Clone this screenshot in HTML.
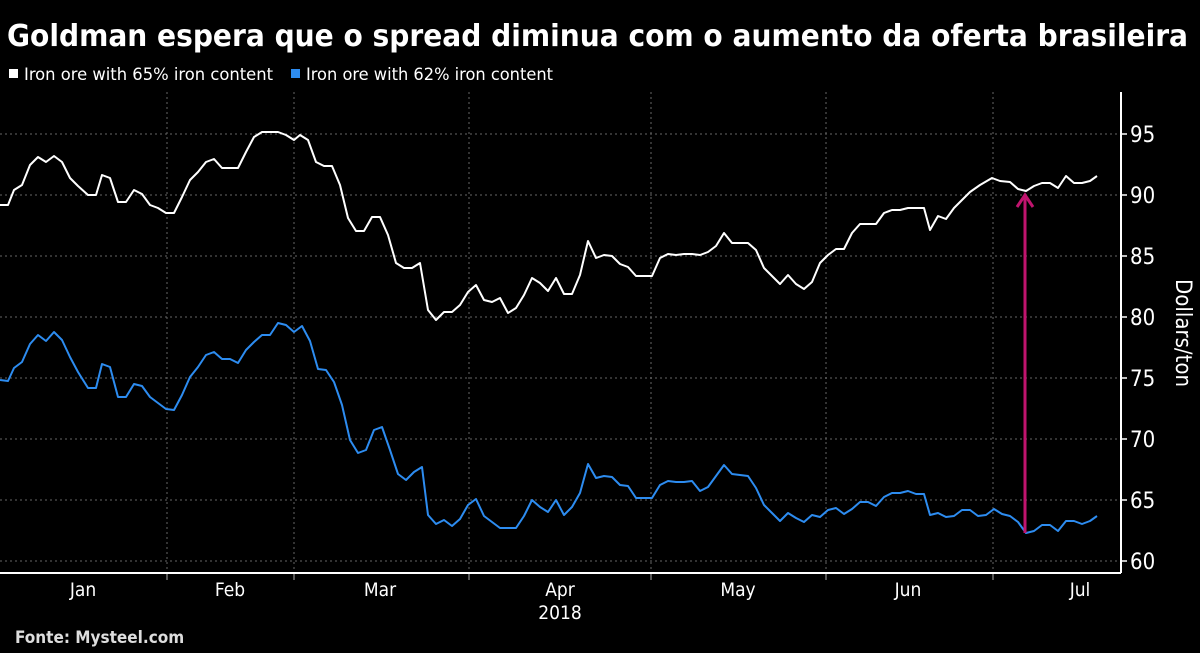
<!DOCTYPE html>
<html><head><meta charset="utf-8"><style>
body{margin:0;background:#000;width:1200px;height:649px;overflow:hidden;font-family:"DejaVu Sans Condensed","Liberation Sans",sans-serif;}
</style></head><body>
<svg width="1200" height="649" xmlns="http://www.w3.org/2000/svg" font-family="DejaVu Sans Condensed, Liberation Sans, sans-serif">
<rect width="1200" height="649" fill="#000"/>
<text x="7" y="46" fill="#fff" font-size="30" font-weight="bold" font-family="DejaVu Sans Condensed, Liberation Sans, sans-serif" textLength="1181" lengthAdjust="spacingAndGlyphs">Goldman espera que o spread diminua com o aumento da oferta brasileira</text>
<rect x="9" y="69" width="9" height="9" fill="#fff"/>
<text x="24" y="80" fill="#fff" font-size="17" textLength="249" lengthAdjust="spacingAndGlyphs">Iron ore with 65% iron content</text>
<rect x="291" y="69" width="9" height="9" fill="#2d8cf0"/>
<text x="306" y="80" fill="#fff" font-size="17" textLength="247" lengthAdjust="spacingAndGlyphs">Iron ore with 62% iron content</text>
<g stroke="#666" stroke-width="1" stroke-dasharray="2,3">
<line x1="0" x2="1119" y1="134" y2="134"/><line x1="0" x2="1119" y1="195" y2="195"/><line x1="0" x2="1119" y1="256" y2="256"/><line x1="0" x2="1119" y1="317" y2="317"/><line x1="0" x2="1119" y1="378" y2="378"/><line x1="0" x2="1119" y1="439" y2="439"/><line x1="0" x2="1119" y1="500" y2="500"/><line x1="0" x2="1119" y1="561" y2="561"/>
<line x1="167" x2="167" y1="92" y2="573"/><line x1="294" x2="294" y1="92" y2="573"/><line x1="469" x2="469" y1="92" y2="573"/><line x1="651" x2="651" y1="92" y2="573"/><line x1="826" x2="826" y1="92" y2="573"/><line x1="993" x2="993" y1="92" y2="573"/>
</g>
<g stroke="#aaa" stroke-width="1"><line x1="167" x2="167" y1="573" y2="580"/><line x1="294" x2="294" y1="573" y2="580"/><line x1="469" x2="469" y1="573" y2="580"/><line x1="651" x2="651" y1="573" y2="580"/><line x1="826" x2="826" y1="573" y2="580"/><line x1="993" x2="993" y1="573" y2="580"/></g>
<line x1="0" x2="1121" y1="573" y2="573" stroke="#fff" stroke-width="2"/>
<line x1="1121" x2="1121" y1="92" y2="573" stroke="#fff" stroke-width="2"/>
<g stroke="#fff" stroke-width="1.5"><line x1="1121" x2="1127" y1="134" y2="134"/><line x1="1121" x2="1127" y1="195" y2="195"/><line x1="1121" x2="1127" y1="256" y2="256"/><line x1="1121" x2="1127" y1="317" y2="317"/><line x1="1121" x2="1127" y1="378" y2="378"/><line x1="1121" x2="1127" y1="439" y2="439"/><line x1="1121" x2="1127" y1="500" y2="500"/><line x1="1121" x2="1127" y1="561" y2="561"/></g>
<g fill="#fff" font-size="22">
<text x="1130" y="142">95</text><text x="1130" y="203">90</text><text x="1130" y="264">85</text><text x="1130" y="325">80</text><text x="1130" y="386">75</text><text x="1130" y="447">70</text><text x="1130" y="508">65</text><text x="1130" y="569">60</text>
</g>
<text transform="translate(1176,333) rotate(90)" fill="#fff" font-size="22" text-anchor="middle">Dollars/ton</text>
<g fill="#fff" font-size="19" text-anchor="middle">
<text x="83" y="596">Jan</text><text x="230" y="596">Feb</text><text x="380" y="596">Mar</text><text x="560" y="596">Apr</text><text x="738" y="596">May</text><text x="908" y="596">Jun</text><text x="1080" y="596">Jul</text><text x="560" y="619">2018</text>
</g>
<text x="15" y="643" fill="#ddd" font-size="17" font-weight="bold">Fonte:  Mysteel.com</text>
<polyline fill="none" stroke="#fff" stroke-width="2" stroke-linejoin="round" points="0,205 8,205 14,190 22,185 30,165 38,157 46,162 54,156 62,162 70,178 78,186 88,195 96,195 102,175 110,178 118,202 126,202 134,190 142,194 150,205 158,208 166,213 174,213 182,197 190,180 198,172 206,162 214,159 222,168 230,168 238,168 246,152 254,137 262,132 270,132 278,132 286,135 294,140 300,135 308,140 316,162 324,166 332,166 340,185 348,218 356,231 364,231 372,217 380,217 388,235 396,263 404,268 412,268 420,263 428,310 436,320 444,312 452,312 460,305 468,292 476,285 484,300 492,302 500,298 508,313 516,308 524,295 532,278 540,283 548,291 556,278 564,294 572,294 580,275 588,241 596,258 604,255 612,256 620,264 628,267 636,276 644,276 652,276 660,258 668,254 676,255 684,254 692,254 700,255 708,252 716,246 724,233 732,243 740,243 748,243 756,250 764,268 772,276 780,284 788,275 796,284 804,289 812,282 820,263 828,255 836,249 844,249 852,233 860,224 868,224 876,224 884,213 892,210 900,210 908,208 916,208 924,208 930,230 938,216 946,219 954,208 962,200 970,192 980,185 992,178 1000,181 1010,182 1018,189 1026,191 1034,186 1042,183 1050,183 1058,188 1066,176 1074,183 1082,183 1090,181 1097,176"/>
<polyline fill="none" stroke="#2d8cf0" stroke-width="2" stroke-linejoin="round" points="0,380 8,381 14,368 22,362 30,344 38,335 46,341 54,332 62,340 70,357 78,372 88,388 96,388 102,364 110,367 118,397 126,397 134,384 142,386 150,397 158,403 166,409 174,410 182,395 190,377 198,367 206,355 214,352 222,359 230,359 238,363 246,350 254,342 262,335 270,335 278,323 286,325 294,332 302,326 310,341 318,369 326,370 334,382 342,405 350,440 358,453 366,450 374,430 382,427 390,450 398,474 406,480 414,472 422,467 428,515 436,524 444,520 452,526 460,519 468,505 476,499 484,516 492,522 500,528 508,528 516,528 524,516 532,500 540,507 548,512 556,500 564,515 572,507 580,493 588,464 596,478 604,476 612,477 620,485 628,486 636,498 644,498 652,498 660,485 668,481 676,482 684,482 692,481 700,491 708,487 716,476 724,465 732,474 740,475 748,476 756,488 764,505 772,513 780,521 788,513 796,518 804,522 812,515 820,517 828,510 836,508 844,514 852,509 860,502 868,502 876,506 884,497 892,493 900,493 908,491 916,494 924,494 930,515 938,513 946,517 954,516 962,510 970,510 978,516 986,515 994,509 1002,514 1010,516 1018,522 1026,533 1034,531 1042,525 1050,525 1058,531 1066,521 1074,521 1082,524 1090,521 1097,516"/>
<line x1="1025" x2="1025" y1="533" y2="197" stroke="#c0146e" stroke-width="3"/>
<polyline points="1017,207 1025,195 1033,207" fill="none" stroke="#c0146e" stroke-width="3"/>
</svg>
</body></html>
